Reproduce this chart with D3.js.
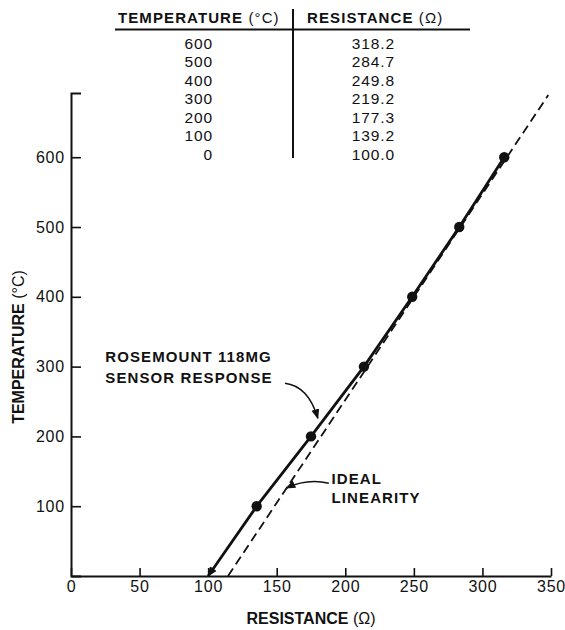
<!DOCTYPE html>
<html><head><meta charset="utf-8">
<script src="https://cdn.jsdelivr.net/npm/d3@7"></script>
<style>
body{margin:0;background:#fff}
svg text{font-family:"Liberation Sans",Arial,Helvetica,sans-serif;fill:#111}
</style>
</head><body>
<svg id="c" width="565" height="630"></svg>
<script>
// ---- data ----
// printed table
const temperatures = [600, 500, 400, 300, 200, 100, 0];
const resistances  = [318.2, 284.7, 249.8, 219.2, 177.3, 139.2, 100.0];
// positions of the plotted sensor points
const plottedResistances = [315.9, 283.1, 248.8, 213.6, 175.0, 135.4, 100.0];
const xTicks = [0, 50, 100, 150, 200, 250, 300, 350];
const yTicks = [100, 200, 300, 400, 500, 600];
const idealResistance  = [114.5, 348];
const idealTemperature = [0, 689];
const headers = ["TEMPERATURE", "RESISTANCE"];
const headerUnits = ["(°C)", "(Ω)"];

// ---- setup ----
const svg = d3.select("#c");
const ink = "#111";
const x = d3.scaleLinear([0, 350], [71, 551]);
const y = d3.scaleLinear([0, 692], [576, 93]);

const defs = svg.append("defs");
defs.append("marker").attr("id","arr").attr("viewBox","0 0 10 10")
  .attr("refX",9).attr("refY",5).attr("markerWidth",10).attr("markerHeight",10)
  .attr("markerUnits","userSpaceOnUse").attr("orient","auto-start-reverse")
  .append("path").attr("d","M0,1 L10,5 L0,9 Z").attr("fill",ink);

// ---- table ----
const table = svg.append("g");
const colRight = [213, 395];
const rowY = d3.scaleLinear([0, 1], [48.5, 67]);
const fmtR = d3.format(".1f");
const hdr = table.append("text").attr("y", 23).attr("font-size", 15).attr("letter-spacing", 1.1);
hdr.append("tspan").attr("x", 118).attr("font-weight", "bold").text(headers[0] + " ");
hdr.append("tspan").text(headerUnits[0]);
const hdr2 = table.append("text").attr("y", 23).attr("font-size", 15).attr("letter-spacing", 1.1);
hdr2.append("tspan").attr("x", 307).attr("font-weight", "bold").text(headers[1] + " ");
hdr2.append("tspan").text(headerUnits[1]);
table.append("line").attr("x1", 115).attr("x2", 470).attr("y1", 29.5).attr("y2", 29.5)
  .attr("stroke", ink).attr("stroke-width", 2.2);
table.append("line").attr("x1", 293).attr("x2", 293).attr("y1", 9).attr("y2", 158)
  .attr("stroke", ink).attr("stroke-width", 2);
temperatures.forEach((t, i) => {
  table.append("text").attr("x", colRight[0]).attr("y", rowY(i)).attr("text-anchor", "end")
    .attr("font-size", 15.5).attr("letter-spacing", 0.9).text(t);
  table.append("text").attr("x", colRight[1]).attr("y", rowY(i)).attr("text-anchor", "end")
    .attr("font-size", 15.5).attr("letter-spacing", 0.9).text(fmtR(resistances[i]));
});

// ---- axes ----
const gx = svg.append("g").attr("transform", "translate(0,576)")
  .call(d3.axisBottom(x).tickValues(xTicks).tickSizeInner(-8).tickSizeOuter(0).tickPadding(5));
const gy = svg.append("g").attr("transform", "translate(71,0)")
  .call(d3.axisLeft(y).tickValues(yTicks).tickSizeInner(-10).tickSizeOuter(-10).tickPadding(6));
[gx, gy].forEach(g => {
  g.attr("font-family", null).attr("font-size", null);
  g.select(".domain").attr("stroke", ink).attr("stroke-width", 2);
  g.selectAll(".tick line").attr("stroke", ink).attr("stroke-width", 1.6);
  g.selectAll(".tick text").attr("fill", ink).attr("font-size", 16).attr("letter-spacing", 0.8);
});

// axis titles
const xt = svg.append("text").attr("x", 311).attr("y", 624).attr("text-anchor", "middle")
  .attr("font-size", 16);
xt.append("tspan").attr("font-weight", "bold").text("RESISTANCE ");
xt.append("tspan").text("(Ω)");
const yt = svg.append("text").attr("transform", "translate(24,347) rotate(-90)")
  .attr("text-anchor", "middle").attr("font-size", 16);
yt.append("tspan").attr("font-weight", "bold").text("TEMPERATURE ");
yt.append("tspan").text("(°C)");

// ---- ideal linearity (dashed) ----
const ideal = idealResistance.map((r, i) => ({ r, t: idealTemperature[i] }));
svg.append("path").datum(ideal)
  .attr("d", d3.line().x(d => x(d.r)).y(d => y(d.t)))
  .attr("fill", "none").attr("stroke", ink).attr("stroke-width", 1.8)
  .attr("stroke-dasharray", "9,5");

// ---- sensor response ----
const sensor = temperatures.map((t, i) => ({ t, r: plottedResistances[i] })).sort((a, b) => a.t - b.t);
svg.append("path").datum(sensor)
  .attr("d", d3.line().x(d => x(d.r)).y(d => y(d.t)))
  .attr("fill", "none").attr("stroke", ink).attr("stroke-width", 2.8)
  .attr("stroke-linejoin", "round")
  .attr("marker-start", "url(#arr)");
svg.append("g").selectAll("circle").data(sensor.filter(d => d.t > 0)).join("circle")
  .attr("cx", d => x(d.r)).attr("cy", d => y(d.t)).attr("r", 5.2).attr("fill", ink);

// ---- annotations ----
const ann = svg.append("g").attr("font-size", 15).attr("font-weight", "bold").attr("letter-spacing", 1.1);
ann.append("text").attr("x", x(25)).attr("y", y(306)).text("ROSEMOUNT 118MG");
ann.append("text").attr("x", x(25)).attr("y", y(276)).text("SENSOR RESPONSE");
ann.append("text").attr("x", x(190)).attr("y", y(132)).text("IDEAL");
ann.append("text").attr("x", x(190)).attr("y", y(105)).text("LINEARITY");

const curve = (p0, c, p1) => `M${x(p0[0])},${y(p0[1])}Q${x(c[0])},${y(c[1])} ${x(p1[0])},${y(p1[1])}`;
svg.append("path").attr("d", curve([156, 276], [173, 272], [180, 226]))
  .attr("fill", "none").attr("stroke", ink).attr("stroke-width", 1.5).attr("marker-end", "url(#arr)");
svg.append("path").attr("d", curve([188, 133], [172, 140], [157, 126]))
  .attr("fill", "none").attr("stroke", ink).attr("stroke-width", 1.5).attr("marker-end", "url(#arr)");
</script>
</body></html>
